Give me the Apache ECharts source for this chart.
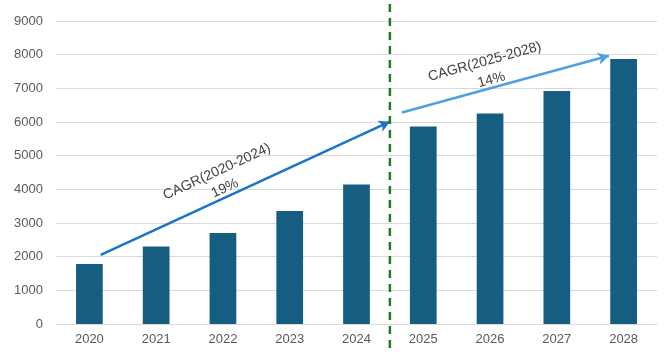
<!DOCTYPE html>
<html><head><meta charset="utf-8">
<script src="https://cdn.jsdelivr.net/npm/echarts@6/dist/echarts.min.js"></script>
<style>html,body{margin:0;padding:0;background:#fff}#c{width:666px;height:356px}</style>
</head><body><div id="c"></div>
<script>
var categories = ['2020','2021','2022','2023','2024','2025','2026','2027','2028'];
var values = [1780, 2300, 2700, 3360, 4140, 5870, 6250, 6920, 7870];
var yTicks = [0, 9000, 1000];
// annotation anchors in data space (x = fractional category index, y = value)
var arrow1 = [[0.17, 2050], [4.5, 6010]];
var arrow2 = [[4.68, 6280], [7.78, 7970]];
var label1 = {text: 'CAGR(2020-2024)', pos: [1.91, 4520]};
var pct1 = {text: '19%', pos: [2.03, 4030]};
var label2 = {text: 'CAGR(2025-2028)', pos: [5.92, 7790]};
var pct2 = {text: '14%', pos: [6.02, 7250]};
var dividerX = 4.5;

var chart = echarts.init(document.getElementById('c'));
var font = 'Liberation Sans, Arial, sans-serif';
chart.setOption({
  animation: false,
  grid: {left: 56, right: 9, top: 21, bottom: 32, containLabel: false},
  xAxis: [{
    type: 'category', data: categories,
    axisLine: {lineStyle: {color: '#d9d9d9'}},
    axisTick: {show: false},
    axisLabel: {color: '#595959', fontSize: 13, fontFamily: font, margin: 9}
  }, {
    type: 'value', min: -0.5, max: 8.5, show: false
  }],
  yAxis: {
    type: 'value', min: yTicks[0], max: yTicks[1], interval: yTicks[2],
    axisLine: {show: false}, axisTick: {show: false},
    splitLine: {lineStyle: {color: '#d9d9d9'}},
    axisLabel: {color: '#595959', fontSize: 13, fontFamily: font, margin: 13,
      formatter: function (v) { return String(v); }}
  },
  series: [{
    type: 'bar', data: values, barWidth: '40%',
    itemStyle: {color: '#155E82'}
  }, {
    type: 'line', xAxisIndex: 1, data: [], 
    markLine: {
      silent: true, symbol: ['none', 'arrow'], symbolSize: [9, 11],
      label: {show: false},
      data: [
        [{coord: arrow1[0], lineStyle: {color: '#1A74C8', width: 2.5, type: 'solid'}}, {coord: arrow1[1]}],
        [{coord: arrow2[0], lineStyle: {color: '#4EA1DD', width: 2.5, type: 'solid'}}, {coord: arrow2[1]}]
      ]
    }
  }]
});

function px(p) { return chart.convertToPixel({xAxisIndex: 1, yAxisIndex: 0}, p); }
function ang(a) { var s = px(a[0]), e = px(a[1]); return Math.atan2(s[1] - e[1], e[0] - s[0]); }
var r1 = ang(arrow1), r2 = ang(arrow2);
function txt(o, r) {
  var p = px(o.pos);
  return {type: 'text', x: p[0], y: p[1], rotation: r, z: 10,
    style: {text: o.text, fill: '#404040', font: '14px ' + font, align: 'center', verticalAlign: 'middle'}};
}
var dx = px([dividerX, 0])[0];
chart.setOption({graphic: [
  txt(label1, r1), txt(pct1, r1), txt(label2, r2), txt(pct2, r2),
  {type: 'line', shape: {x1: dx, y1: 4, x2: dx, y2: 352}, z: 10,
   style: {stroke: '#1E7B25', lineWidth: 2.5, lineDash: [8, 6]}}
]});
</script></body></html>
